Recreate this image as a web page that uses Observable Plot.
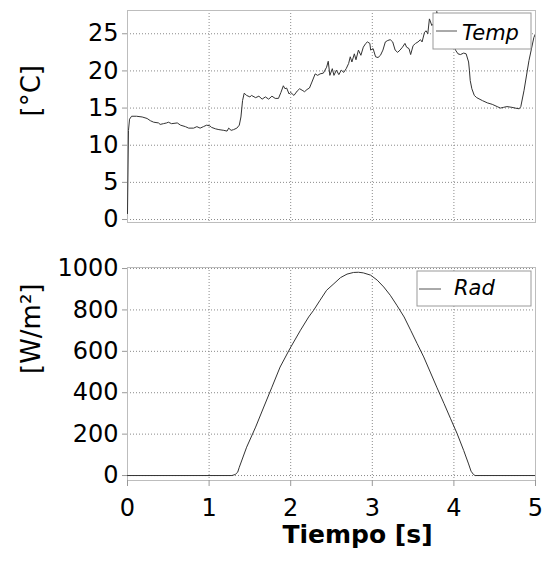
<!DOCTYPE html>
<html>
<head>
<meta charset="utf-8">
<script src="https://cdn.jsdelivr.net/npm/d3@7"></script>
<script src="https://cdn.jsdelivr.net/npm/@observablehq/plot@0.6"></script>
<style>
  html, body { margin: 0; padding: 0; background: #fff; }
  #wrap { position: relative; width: 545px; height: 562px; font-family: "DejaVu Sans", sans-serif; }
  #topPanel, #bottomPanel, #legend { position: absolute; left: 0; }
  #topPanel { top: 0; }
  #bottomPanel { top: 240px; }
  #legend { top: 0; pointer-events: none; }
</style>
</head>
<body>
<div id="wrap">
  <div id="topPanel"></div>
  <div id="bottomPanel"></div>
  <svg id="legend" width="545" height="562"></svg>
</div>
<script>
// ---- Data ----
const xTicks = [0, 1, 2, 3, 4, 5];
const tempTicks = [0, 5, 10, 15, 20, 25];
const radTicks = [0, 200, 400, 600, 800, 1000];

const tempT = [0, 0.012, 0.025, 0.05, 0.11, 0.18, 0.24, 0.28, 0.32, 0.38, 0.40, 0.44, 0.48, 0.50, 0.54, 0.61, 0.65, 0.71, 0.75, 0.81, 0.85, 0.89, 0.93, 0.97, 1.01, 1.03, 1.08, 1.12, 1.18, 1.22, 1.24, 1.27, 1.30, 1.34, 1.37, 1.39, 1.41, 1.43, 1.46, 1.50, 1.52, 1.57, 1.61, 1.65, 1.69, 1.73, 1.77, 1.81, 1.85, 1.88, 1.91, 1.93, 1.95, 1.98, 2.00, 2.04, 2.08, 2.11, 2.14, 2.17, 2.20, 2.23, 2.26, 2.30, 2.33, 2.36, 2.40, 2.44, 2.46, 2.48, 2.51, 2.53, 2.56, 2.59, 2.62, 2.65, 2.68, 2.71, 2.73, 2.75, 2.78, 2.80, 2.83, 2.86, 2.89, 2.92, 2.94, 2.97, 2.98, 3.01, 3.04, 3.07, 3.10, 3.13, 3.16, 3.19, 3.22, 3.25, 3.28, 3.31, 3.34, 3.37, 3.40, 3.42, 3.45, 3.47, 3.50, 3.53, 3.56, 3.59, 3.61, 3.64, 3.66, 3.68, 3.70, 3.73, 3.76, 3.79, 3.83, 3.88, 3.93, 3.97, 4.00, 4.02, 4.05, 4.08, 4.12, 4.15, 4.18, 4.19, 4.20, 4.22, 4.25, 4.28, 4.35, 4.41, 4.47, 4.53, 4.57, 4.61, 4.65, 4.71, 4.75, 4.80, 4.82, 4.86, 4.92, 4.98, 5.00];
const tempV = [0.8, 12.0, 13.5, 13.9, 13.9, 13.8, 13.6, 13.3, 13.1, 13.0, 12.8, 12.9, 13.0, 13.1, 12.9, 13.0, 12.7, 12.5, 12.3, 12.3, 12.5, 12.3, 12.5, 12.7, 12.6, 12.4, 12.2, 12.1, 12.0, 11.9, 12.3, 12.0, 12.1, 12.3, 12.7, 13.8, 16.0, 17.0, 16.7, 16.5, 16.7, 16.4, 16.6, 16.2, 16.5, 16.2, 16.6, 16.3, 16.3, 17.1, 18.0, 17.6, 17.7, 16.9, 17.1, 16.7, 17.3, 17.6, 17.4, 17.2, 17.5, 17.7, 18.5, 19.6, 19.4, 19.6, 19.7, 20.5, 21.3, 19.4, 20.3, 19.4, 20.1, 19.5, 20.1, 19.8, 20.3, 21.0, 21.9, 21.2, 22.3, 21.5, 22.8, 22.1, 23.2, 23.7, 23.9, 23.7, 22.8, 23.0, 21.9, 21.8, 22.1, 22.8, 23.9, 24.1, 24.2, 23.9, 22.8, 22.5, 22.8, 23.2, 23.7, 23.2, 23.0, 22.2, 23.4, 23.7, 23.9, 24.2, 23.9, 25.2, 25.4, 25.0, 27.0, 26.1, 26.5, 28.0, 26.8, 26.0, 25.5, 24.5, 23.6, 22.8, 22.3, 22.2, 22.4, 22.3, 21.2, 20.1, 18.7, 17.6, 16.7, 16.4, 16.0, 15.7, 15.5, 15.2, 15.0, 15.1, 15.2, 15.1, 15.0, 14.9, 15.2, 17.4, 21.4, 24.5, 25.0];

const radT = [0, 1.28, 1.32, 1.35, 1.37, 1.46, 1.57, 1.67, 1.77, 1.87, 1.99, 2.12, 2.22, 2.28, 2.36, 2.44, 2.53, 2.61, 2.69, 2.77, 2.83, 2.89, 2.98, 3.06, 3.14, 3.22, 3.30, 3.39, 3.47, 3.55, 3.63, 3.71, 3.79, 3.88, 3.96, 4.04, 4.12, 4.18, 4.21, 4.24, 4.26, 5.00];
const radV = [0, 0, 5, 16, 40, 137, 234, 331, 427, 524, 613, 702, 766, 798, 847, 895, 927, 956, 973, 981, 982, 979, 968, 944, 911, 871, 823, 766, 702, 637, 573, 500, 427, 347, 274, 202, 121, 56, 21, 5, 0, 0];

const tempData = tempT.map((t, i) => ({t, v: tempV[i]}));
const radData = radT.map((t, i) => ({t, v: radV[i]}));

const font = "DejaVu Sans, sans-serif";
const gridStyle = {stroke: "#8a8a8a", strokeOpacity: 1, strokeWidth: 1, strokeDasharray: "1,2"};
const plain = d => String(d);

const topChart = Plot.plot({
  width: 545, height: 240,
  marginTop: 10, marginBottom: 18, marginLeft: 127, marginRight: 10,
  style: {fontFamily: font, background: "#fff", color: "#000", overflow: "visible"},
  x: {domain: [0, 5]},
  y: {domain: [-0.4, 28.13]},
  marks: [
    Plot.gridX(xTicks, gridStyle),
    Plot.gridY(tempTicks, gridStyle),
    Plot.frame({stroke: "#bdbdbd"}),
    Plot.axisY(tempTicks, {tickSize: 5, tickPadding: 4, fontSize: 24, stroke: "#999", fill: "#000", label: null, tickFormat: plain}),
    Plot.axisX([], {label: null}),
    Plot.line(tempData, {x: "t", y: "v", stroke: "#333", strokeWidth: 1, clip: true}),
    Plot.text(["[°C]"], {frameAnchor: "left", dx: -96, rotate: -90, fontSize: 26, fill: "#000", text: d => d})
  ]
});
document.getElementById("topPanel").appendChild(topChart);

const bottomChart = Plot.plot({
  width: 545, height: 322,
  marginTop: 27, marginBottom: 82, marginLeft: 127, marginRight: 10,
  style: {fontFamily: font, background: "#fff", color: "#000", overflow: "visible"},
  x: {domain: [0, 5]},
  y: {domain: [-24, 1005]},
  marks: [
    Plot.gridX(xTicks, gridStyle),
    Plot.gridY(radTicks, gridStyle),
    Plot.frame({stroke: "#bdbdbd"}),
    Plot.axisY(radTicks, {tickSize: 5, tickPadding: 4, fontSize: 24, stroke: "#999", fill: "#000", label: null, tickFormat: plain}),
    Plot.axisX(xTicks, {tickSize: 6, tickPadding: 12, fontSize: 24, stroke: "#999", fill: "#000", label: null, tickFormat: plain}),
    Plot.line(radData, {x: "t", y: "v", stroke: "#333", strokeWidth: 1, clip: true}),
    Plot.text(["[W/m²]"], {frameAnchor: "left", dx: -96, rotate: -90, fontSize: 26, fill: "#000", text: d => d}),
    Plot.text(["Tiempo [s]"], {frameAnchor: "bottom", dx: 26, dy: 62, fontSize: 25, fontWeight: "bold", fill: "#000", text: d => d})
  ]
});
document.getElementById("bottomPanel").appendChild(bottomChart);

// ---- Legends ----
const legendItems = [
  {name: "Temp", box: [433, 13, 98, 36], line: [436, 457, 31], text: [462, 40]},
  {name: "Rad", box: [417, 271, 114, 35], line: [419, 441, 289], text: [454, 295]}
];
const lg = d3.select("#legend");
for (const it of legendItems) {
  lg.append("rect").attr("x", it.box[0]).attr("y", it.box[1]).attr("width", it.box[2]).attr("height", it.box[3])
    .attr("fill", "#fff").attr("stroke", "#9a9a9a").attr("stroke-width", 1);
  lg.append("line").attr("x1", it.line[0]).attr("x2", it.line[1]).attr("y1", it.line[2]).attr("y2", it.line[2])
    .attr("stroke", "#555").attr("stroke-width", 1);
  lg.append("text").attr("x", it.text[0]).attr("y", it.text[1]).attr("font-family", font)
    .attr("font-style", "italic").attr("font-size", 21).attr("fill", "#000").text(it.name);
}
</script>
</body>
</html>
